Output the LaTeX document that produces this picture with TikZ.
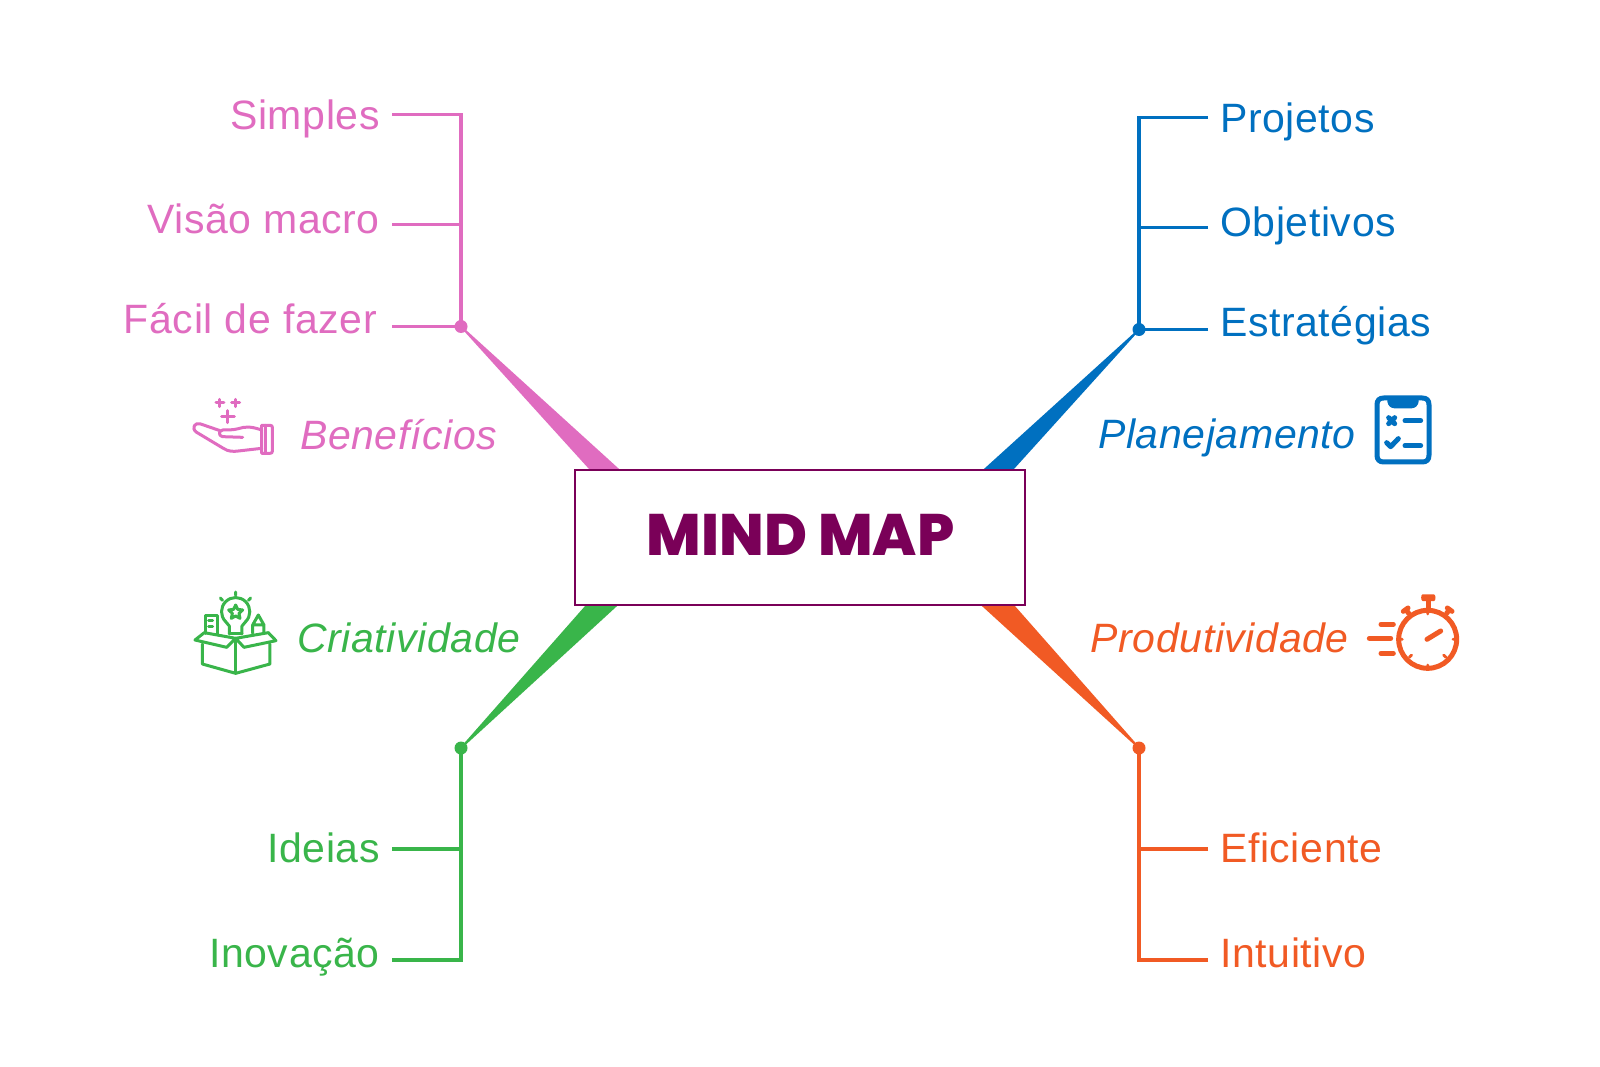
\documentclass[tikz,border=0pt]{standalone}
\usepackage{fontspec}
\setmainfont{Liberation Sans}[LetterSpace=1.5]
\newfontfamily\titlefont{Poppins}[UprightFont=* ExtraBold]
\usetikzlibrary{calc}
\definecolor{cpink}{HTML}{E06CC0}
\definecolor{cblue}{HTML}{0070C0}
\definecolor{cgreen}{HTML}{39B54A}
\definecolor{corange}{HTML}{F15A24}
\definecolor{cpurple}{HTML}{7A0058}
\tikzset{
 lab/.style={inner sep=0pt,font=\fontsize{41}{41}\selectfont},
 cat/.style={inner sep=0pt,font=\fontsize{41}{41}\selectfont\itshape},
 stub/.style={line width=3.8pt},
 dotn/.style={circle,inner sep=0pt,minimum size=13pt},
 wedge/.style={line width=1.6pt,line join=round},
 icon/.style={line width=3pt,line cap=round,line join=round},
 iconb/.style={line width=5pt,line cap=round,line join=round},
}
\begin{document}
\begin{tikzpicture}[x=1pt,y=-1pt]
\useasboundingbox (0,0) rectangle (1600,1067);
\fill[white] (0,0) rectangle (1600,1067);
% anchors on the central box
\coordinate (pa) at (591,470); \coordinate (pb) at (619,470);
\coordinate (ba) at (984,470); \coordinate (bb) at (1012,470);
\coordinate (ga) at (587,605); \coordinate (gb) at (617,605);
\coordinate (oa) at (982,605); \coordinate (ob) at (1013,605);
% hubs
\node[dotn,fill=cpink] (phub) at (461,326.5) {};
\node[dotn,fill=cblue] (bhub) at (1139,329.5) {};
\node[dotn,fill=cgreen] (ghub) at (461,748) {};
\node[dotn,fill=corange] (ohub) at (1139,748) {};
% wedges
\filldraw[cpink,wedge] (phub.center) -- (pa) -- (pb) -- cycle;
\filldraw[cblue,wedge] (bhub.center) -- (ba) -- (bb) -- cycle;
\filldraw[cgreen,wedge] (ghub.center) -- (ga) -- (gb) -- cycle;
\filldraw[corange,wedge] (ohub.center) -- (oa) -- (ob) -- cycle;
% centre
\node[draw=cpurple,line width=1.3pt,fill=white,minimum width=450pt,minimum height=135pt,inner sep=0pt] (box) at (800,537.5) {};
\node[inner sep=0pt,anchor=base,text=cpurple,font=\titlefont\fontsize{58.5}{58.5}\selectfont] (title) at (800.5,555) {MIND MAP};
% pink
\begin{scope}[cpink]
\node[lab,text=cpink,anchor=base east] (p1) at (380,130) {Simples};
\node[lab,text=cpink,anchor=base east] (p2) at (380,234) {Visão macro};
\node[lab,text=cpink,anchor=base east] (p3) at (377,333) {Fácil de fazer};
\node[cat,text=cpink,anchor=base west] (pc) at (300,449) {Benefícios};
\coordinate (p1e) at (392,114.5); \coordinate (p2e) at (392,224.5); \coordinate (p3e) at (392,326.5);
\draw[stub] (p1e) -| (phub.center);
\draw[stub] (p2e) -- (p2e -| phub.center);
\draw[stub] (p3e) -- (phub.center);
\begin{scope}[shift={(170,370)},x=0.3333pt,y=-0.3333pt,icon]
\draw (275,180) .. controls (240,168) and (225,170) .. (205,176) .. controls (190,180) and (175,180) .. (158,180) .. controls (145,182) and (145,198) .. (158,200) -- (218,202);
\draw (150,182) -- (92,162) .. controls (75,155) and (62,175) .. (80,187) -- (160,235) .. controls (175,245) and (190,245) .. (205,243) -- (275,235);
\draw (275,166) -- (300,166) .. controls (305,166) and (307,168) .. (307,172) -- (307,244) .. controls (307,248) and (305,250) .. (300,250) -- (275,250) -- cycle;
\draw (287,166) -- (287,250);
\draw (150,88) -- (150,110) (138,98) -- (162,98);
\draw (197,88) -- (197,110) (185,98) -- (209,98);
\draw (174,122) -- (174,158) (155,141) -- (193,141);
\end{scope}
\end{scope}
% blue
\begin{scope}[cblue]
\node[lab,text=cblue,anchor=base west] (b1) at (1220,133) {Projetos};
\node[lab,text=cblue,anchor=base west] (b2) at (1220,237) {Objetivos};
\node[lab,text=cblue,anchor=base west] (b3) at (1220,336) {Estratégias};
\node[cat,text=cblue,anchor=base east] (bc) at (1356,448) {Planejamento};
\coordinate (b1e) at (1208,117.5); \coordinate (b2e) at (1208,227.5); \coordinate (b3e) at (1208,329.5);
\draw[stub] (b1e) -| (bhub.center);
\draw[stub] (b2e) -- (b2e -| bhub.center);
\draw[stub] (b3e) -- (bhub.center);
\begin{scope}[shift={(1330,375)},x=0.3333pt,y=-0.3333pt,iconb]
\draw (161,69) -- (277,69) .. controls (290,69) and (297,76) .. (297,89) -- (297,241) .. controls (297,254) and (290,261) .. (277,261) -- (161,261) .. controls (148,261) and (141,254) .. (141,241) -- (141,89) .. controls (141,76) and (148,69) .. (161,69) -- cycle;
\fill (172,69) -- (266,69) -- (266,80) .. controls (264,92) and (256,100) .. (244,100) -- (194,100) .. controls (182,100) and (174,92) .. (172,80) -- cycle;
\draw (176,128) -- (194,146) (194,128) -- (176,146);
\draw (225,137) -- (272,137);
\draw (170,203) -- (182,215) -- (205,191);
\draw (225,212) -- (272,212);
\end{scope}
\end{scope}
% green
\begin{scope}[cgreen]
\node[lab,text=cgreen,anchor=base east] (g1) at (380,862) {Ideias};
\node[lab,text=cgreen,anchor=base east] (g2) at (380,967) {Inovação};
\node[cat,text=cgreen,anchor=base west] (gc) at (297,652) {Criatividade};
\coordinate (g1e) at (392,849); \coordinate (g2e) at (392,960);
\draw[stub] (g2e) -| (ghub.center);
\draw[stub] (g1e) -- (g1e -| ghub.center);
\begin{scope}[shift={(170,570)},x=0.3333pt,y=-0.3333pt,icon]
\draw (197,205) -- (197,310);
\draw (197,205) -- (170,232) -- (75,210) -- (103,188) -- cycle;
\draw (197,205) -- (222,232) -- (318,212) -- (295,188) -- cycle;
\draw (97,222) -- (97,282) -- (197,310) -- (300,282) -- (300,222);
\draw (167,155) arc[start angle=135,end angle=405,radius=42.4];
\draw (167,155) -- (178,168) -- (178,192) (227,155) -- (216,168) -- (216,192);
\draw (178,190) -- (216,190);
\draw (197,105) -- (203,118) -- (218,120) -- (207,130) -- (210,145) -- (197,138) -- (184,145) -- (187,130) -- (176,120) -- (191,118) -- cycle;
\draw (197,66) -- (197,76) (151,84) -- (158,91) (242,84) -- (235,91);
\draw (108,190) -- (108,138) -- (142,138) -- (142,192);
\draw (116,152) -- (128,152) (116,170) -- (128,170);
\draw (248,190) -- (248,165) -- (265,135) -- (282,165) -- (282,190) (248,165) -- (282,165);
\end{scope}
\end{scope}
% orange
\begin{scope}[corange]
\node[lab,text=corange,anchor=base west] (o1) at (1220,862) {Eficiente};
\node[lab,text=corange,anchor=base west] (o2) at (1220,967) {Intuitivo};
\node[cat,text=corange,anchor=base east] (oc) at (1349,652) {Produtividade};
\coordinate (o1e) at (1208,849); \coordinate (o2e) at (1208,960);
\draw[stub] (o2e) -| (ohub.center);
\draw[stub] (o1e) -- (o1e -| ohub.center);
\begin{scope}[shift={(1330,570)},x=0.3333pt,y=-0.3333pt,iconb]
\draw (293,208) circle[radius=87];
\fill (278,73) -- (312,73) .. controls (318,73) and (318,93) .. (312,93) -- (278,93) .. controls (272,93) and (272,73) .. (278,73) -- cycle;
\draw (295,93) -- (295,118);
\draw (220,124) -- (234,114);
\draw (229,120) -- (236,130);
\draw (366,124) -- (352,114);
\draw (357,120) -- (350,130);
\draw[line width=2.8pt] (293,122) -- (293,132) (293,285) -- (293,295) (207,208) -- (217,208) (369,208) -- (379,208) (238,262) -- (245,255) (348,262) -- (341,255);
\draw (291,208) -- (332,183);
\draw (153,163) -- (190,163) (118,205) -- (182,205) (153,250) -- (190,250);
\end{scope}
\end{scope}
\end{tikzpicture}
\end{document}
